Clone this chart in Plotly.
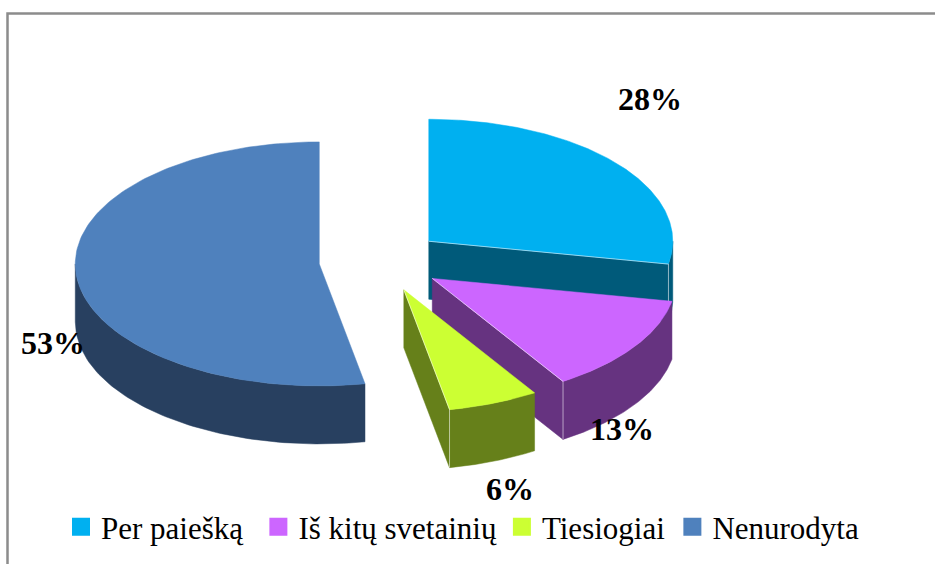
import numpy as np
import plotly.graph_objects as go

categories = ["Per paiešką", "Iš kitų svetainių", "Tiesiogiai", "Nenurodyta"]
values = [28, 13, 6, 53]
top_colors = ["#00B0F0", "#CC66FF", "#CCFF33", "#4F81BD"]
side_colors = ["#005A7A", "#663380", "#66801A", "#284060"]
label_positions = [(650, 99), (622, 429), (510, 489), (53, 343)]
legend_padding = ["\u2004", "", "\u200a", ""]

# Projection of the pie onto the page (in page pixels)
CX, CY, RX, RY, DEPTH, EXPLODE = 381, 261, 244, 122, 58, 62
W, H = 935, 564


def rim(apex, deg):
    t = np.radians(deg)
    return apex[0] + RX * np.sin(t), apex[1] - RY * np.cos(t)


def poly(x, y, color):
    return go.Scatter(x=list(x), y=list(y), mode="lines", fill="toself", fillcolor=color,
                      line=dict(color=color, width=0.5), showlegend=False, hoverinfo="skip")


fig = go.Figure()
total = sum(values)
start = 0.0
for name, v, top, side in zip(categories, values, top_colors, side_colors):
    end = start + 360.0 * v / total
    mid = np.radians((start + end) / 2)
    apex = (CX + EXPLODE * np.sin(mid), CY - EXPLODE * 0.5 * np.cos(mid))
    # radial face on the closing edge, when it faces the viewer
    if 0 < end < 180:
        ex, ey = rim(apex, end)
        fig.add_trace(poly([apex[0], ex, ex, apex[0], apex[0]],
                           [apex[1], ey, ey + DEPTH, apex[1] + DEPTH, apex[1]], side))
    # outer wall, the part of the arc facing the viewer
    a, b = max(start, 90), min(end, 270)
    if a < b:
        ts = np.linspace(a, b, 80)
        xs, ys = rim(apex, ts)
        fig.add_trace(poly(np.r_[xs, xs[::-1], xs[0]],
                           np.r_[ys, ys[::-1] + DEPTH, ys[0]], side))
    # top face
    ts = np.linspace(start, end, 160)
    xs, ys = rim(apex, ts)
    fig.add_trace(poly(np.r_[apex[0], xs, apex[0]], np.r_[apex[1], ys, apex[1]], top))
    # thin light edge where the closing edge meets its face
    if 0 < end < 180:
        ex, ey = rim(apex, end)
        fig.add_trace(go.Scatter(x=[apex[0], ex, ex], y=[apex[1], ey, ey + DEPTH], mode="lines",
                                 line=dict(color="rgba(255,255,255,0.55)", width=1),
                                 showlegend=False, hoverinfo="skip"))
    start = end

# Legend entries
for name, pad, top in zip(categories, legend_padding, top_colors):
    fig.add_trace(go.Scatter(x=[None], y=[None], mode="markers", name=name + pad,
                             marker=dict(symbol="square", size=16, color=top,
                                         line=dict(color=top, width=2))))

# Value labels
for v, (lx, ly) in zip(values, label_positions):
    fig.add_annotation(x=lx, y=ly, text=f"<b>{v}%</b>", showarrow=False, xref="x", yref="y",
                       font=dict(family="Liberation Serif", size=32, color="black"))

# Chart-area frame (top and left edges only are in the picture)
fig.add_trace(go.Scatter(x=[7.5, 7.5, W], y=[H, 13.5, 13.5], mode="lines",
                         line=dict(color="#8C8C8C", width=2.5), showlegend=False, hoverinfo="skip"))

fig.update_layout(
    width=W, height=H, margin=dict(l=0, r=0, t=0, b=0),
    paper_bgcolor="white", plot_bgcolor="white",
    font=dict(family="Liberation Serif", color="black"),
    xaxis=dict(range=[0, W], visible=False, fixedrange=True),
    yaxis=dict(range=[H, 0], visible=False, fixedrange=True),
    legend=dict(orientation="h", x=61 / W, y=1 - 527 / H, xanchor="left", yanchor="middle",
                itemwidth=30, font=dict(family="Liberation Serif", size=31),
                bgcolor="rgba(0,0,0,0)"),
)
fig.write_html("out.html", config={"displayModeBar": False},
               post_script="document.body.style.margin='0';document.documentElement.style.overflow='hidden';")
